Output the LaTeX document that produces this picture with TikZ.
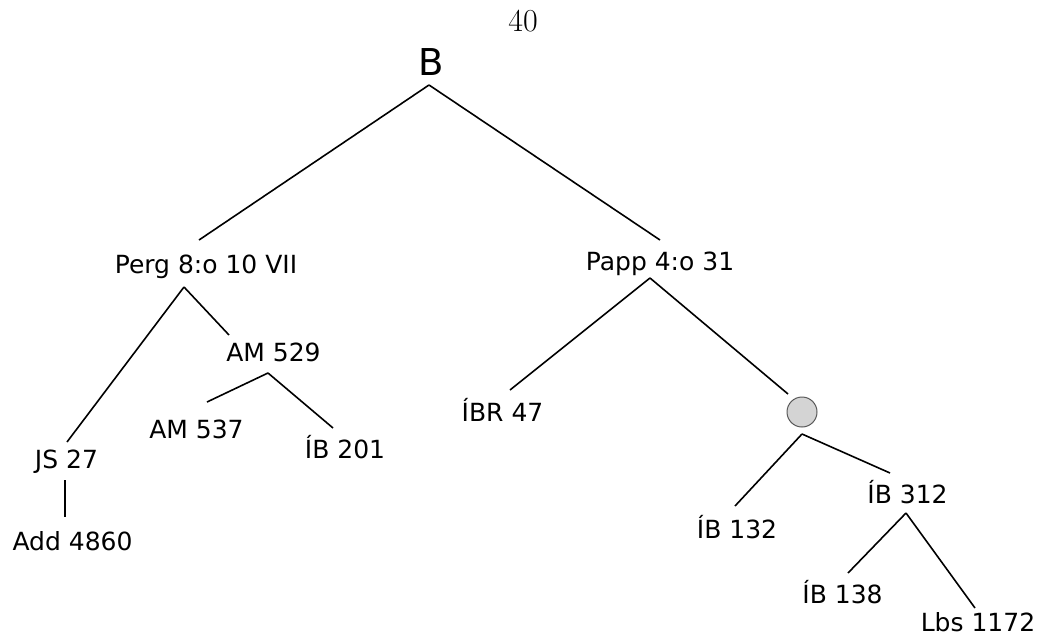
\documentclass[tikz,border=0pt]{standalone}
\usepackage{fontspec}
\setsansfont{DejaVu Sans}
\begin{document}
\begin{tikzpicture}[x=1pt,y=-1pt,
  lbl/.style={anchor=base, inner sep=0pt, font=\sffamily\fontsize{25}{30}\selectfont},
  edge/.style={line width=1.6pt, black},
  hub/.style={circle, draw=black!65, fill=black!17, line width=1pt,
              minimum size=30pt, inner sep=0pt}]

\useasboundingbox (0,0) rectangle (1046,638);

% page number and root
\node[anchor=base, inner sep=0pt, font=\rmfamily\fontsize{32}{36}\selectfont] (page) at (523,31) {40};
\node[lbl, font=\sffamily\fontsize{37}{40}\selectfont] (B) at (431,75) {B};

% left branch
\node[lbl] (Perg)   at (206,273)   {Perg 8:o 10 VII};
\node[lbl] (AM529)  at (273.5,361) {AM 529};
\node[lbl] (AM537)  at (196.5,438) {AM 537};
\node[lbl] (IB201)  at (345,458)   {ÍB 201};
\node[lbl] (JS27)   at (66.5,468)  {JS 27};
\node[lbl] (Add)    at (72.5,550)  {Add 4860};

% right branch
\node[lbl] (Papp)   at (660,270)   {Papp 4:o 31};
\node[lbl] (IBR47)  at (502.5,421) {ÍBR 47};
\node[hub] (hub)    at (802,412)   {};
\node[lbl] (IB132)  at (737,538)   {ÍB 132};
\node[lbl] (IB312)  at (907.5,503) {ÍB 312};
\node[lbl] (IB138)  at (842.5,603) {ÍB 138};
\node[lbl] (Lbs)    at (978,631)   {Lbs 1172};

% connectors
\draw[edge] ([shift={(-2,10)}]B.base) -- ([shift={(-7,-33)}]Perg.base);
\draw[edge] ([shift={(-2,10)}]B.base) -- ([shift={(0,-30)}]Papp.base);

\draw[edge] ([shift={(-22,14)}]Perg.base) -- ([shift={(0.5,-26)}]JS27.base);
\draw[edge] ([shift={(-22,14)}]Perg.base) -- ([shift={(-44.5,-26)}]AM529.base);
\draw[edge] ([shift={(-5.5,12)}]AM529.base) -- ([shift={(10.5,-36)}]AM537.base);
\draw[edge] ([shift={(-5.5,12)}]AM529.base) -- ([shift={(-12,-30)}]IB201.base);
\draw[edge] ([shift={(-1.5,12)}]JS27.base) -- ([shift={(-7.5,-33)}]Add.base);

\draw[edge] ([shift={(-10,8)}]Papp.base) -- ([shift={(7.5,-31)}]IBR47.base);
\draw[edge] ([shift={(-10,8)}]Papp.base) -- ([shift={(-14,-18)}]hub.center);
\draw[edge] ([shift={(0,22)}]hub.center) -- ([shift={(-2,-32)}]IB132.base);
\draw[edge] ([shift={(0,22)}]hub.center) -- ([shift={(-17.5,-30)}]IB312.base);
\draw[edge] ([shift={(-1.5,10)}]IB312.base) -- ([shift={(5.5,-30)}]IB138.base);
\draw[edge] ([shift={(-1.5,10)}]IB312.base) -- ([shift={(-3,-23)}]Lbs.base);
\end{tikzpicture}
\end{document}
